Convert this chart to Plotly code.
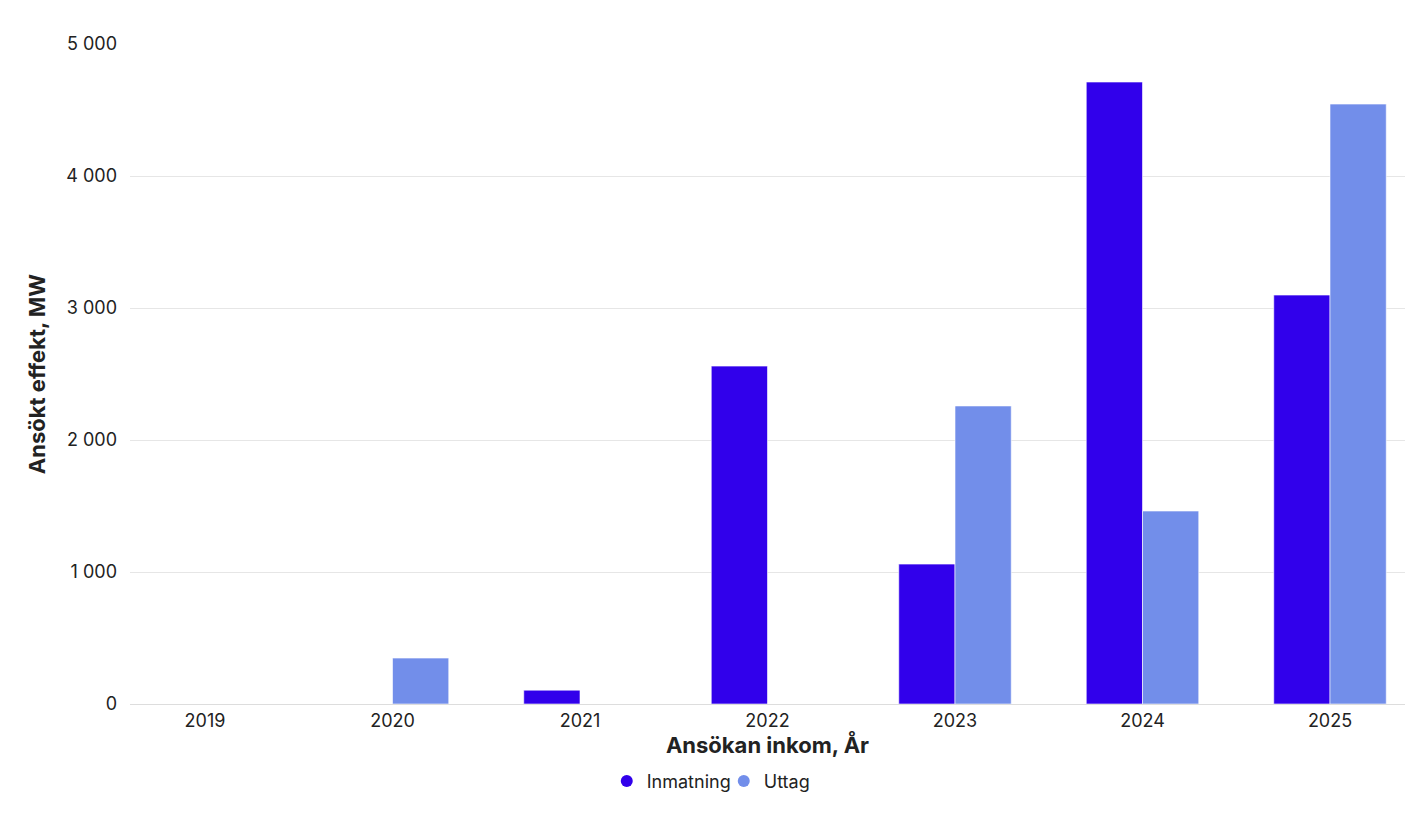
import plotly.graph_objects as go

years = ["2019", "2020", "2021", "2022", "2023", "2024", "2025"]
inmatning = [0, 0, 105, 2560, 1060, 4712, 3098]
uttag = [0, 348, 0, 0, 2258, 1462, 4545]
y_ticks = [0, 1000, 2000, 3000, 4000, 5000]
y_tick_labels = ["0", "1 000", "2 000", "3 000", "4 000", "5 000"]
series_names = ["Inmatning", "Uttag"]
series_colors = ["#3100EB", "#728EEA"]

fig = go.Figure()
for name, vals, col in zip(series_names, [inmatning, uttag], series_colors):
    fig.add_trace(go.Bar(x=years, y=vals, name=name, showlegend=False,
                         marker=dict(color=col, line=dict(color="white", width=0.6))))
for name, col in zip(series_names, series_colors):
    fig.add_trace(go.Scatter(x=[None], y=[None], mode="markers", name=name,
                             marker=dict(symbol="circle", size=11, color=col)))

fig.update_layout(
    width=1409, height=808,
    margin=dict(l=122, r=12, t=36, b=112, autoexpand=False),
    paper_bgcolor="white", plot_bgcolor="white",
    barmode="group", bargap=0.4, bargroupgap=0,
    font=dict(family="Inter", color="#222222", size=18),
    xaxis=dict(
        type="category", range=[-0.4, 6.4], automargin=False,
        title=dict(text="<b>Ansökan inkom, År</b>", font=dict(size=22, family="Inter"), standoff=4),
        showline=True, linecolor="#dddddd", linewidth=1,
        ticks="", tickfont=dict(size=18),
    ),
    yaxis=dict(
        range=[0, 5000], tickvals=y_ticks, ticktext=y_tick_labels, automargin=False,
        title=dict(text="<b>Ansökt effekt, MW</b>", font=dict(size=22, family="Inter"), standoff=14),
        gridcolor="#e6e6e6", gridwidth=1, zeroline=False,
        ticks="", tickfont=dict(size=18), ticklabelstandoff=12,
    ),
    legend=dict(orientation="h", xref="container", x=0.508, xanchor="center",
                yref="container", y=0.043, yanchor="middle",
                font=dict(size=18), itemwidth=30, itemsizing="constant", tracegroupgap=0,
                entrywidth=72, entrywidthmode="pixels"),
)

fig.write_html("out.html")
